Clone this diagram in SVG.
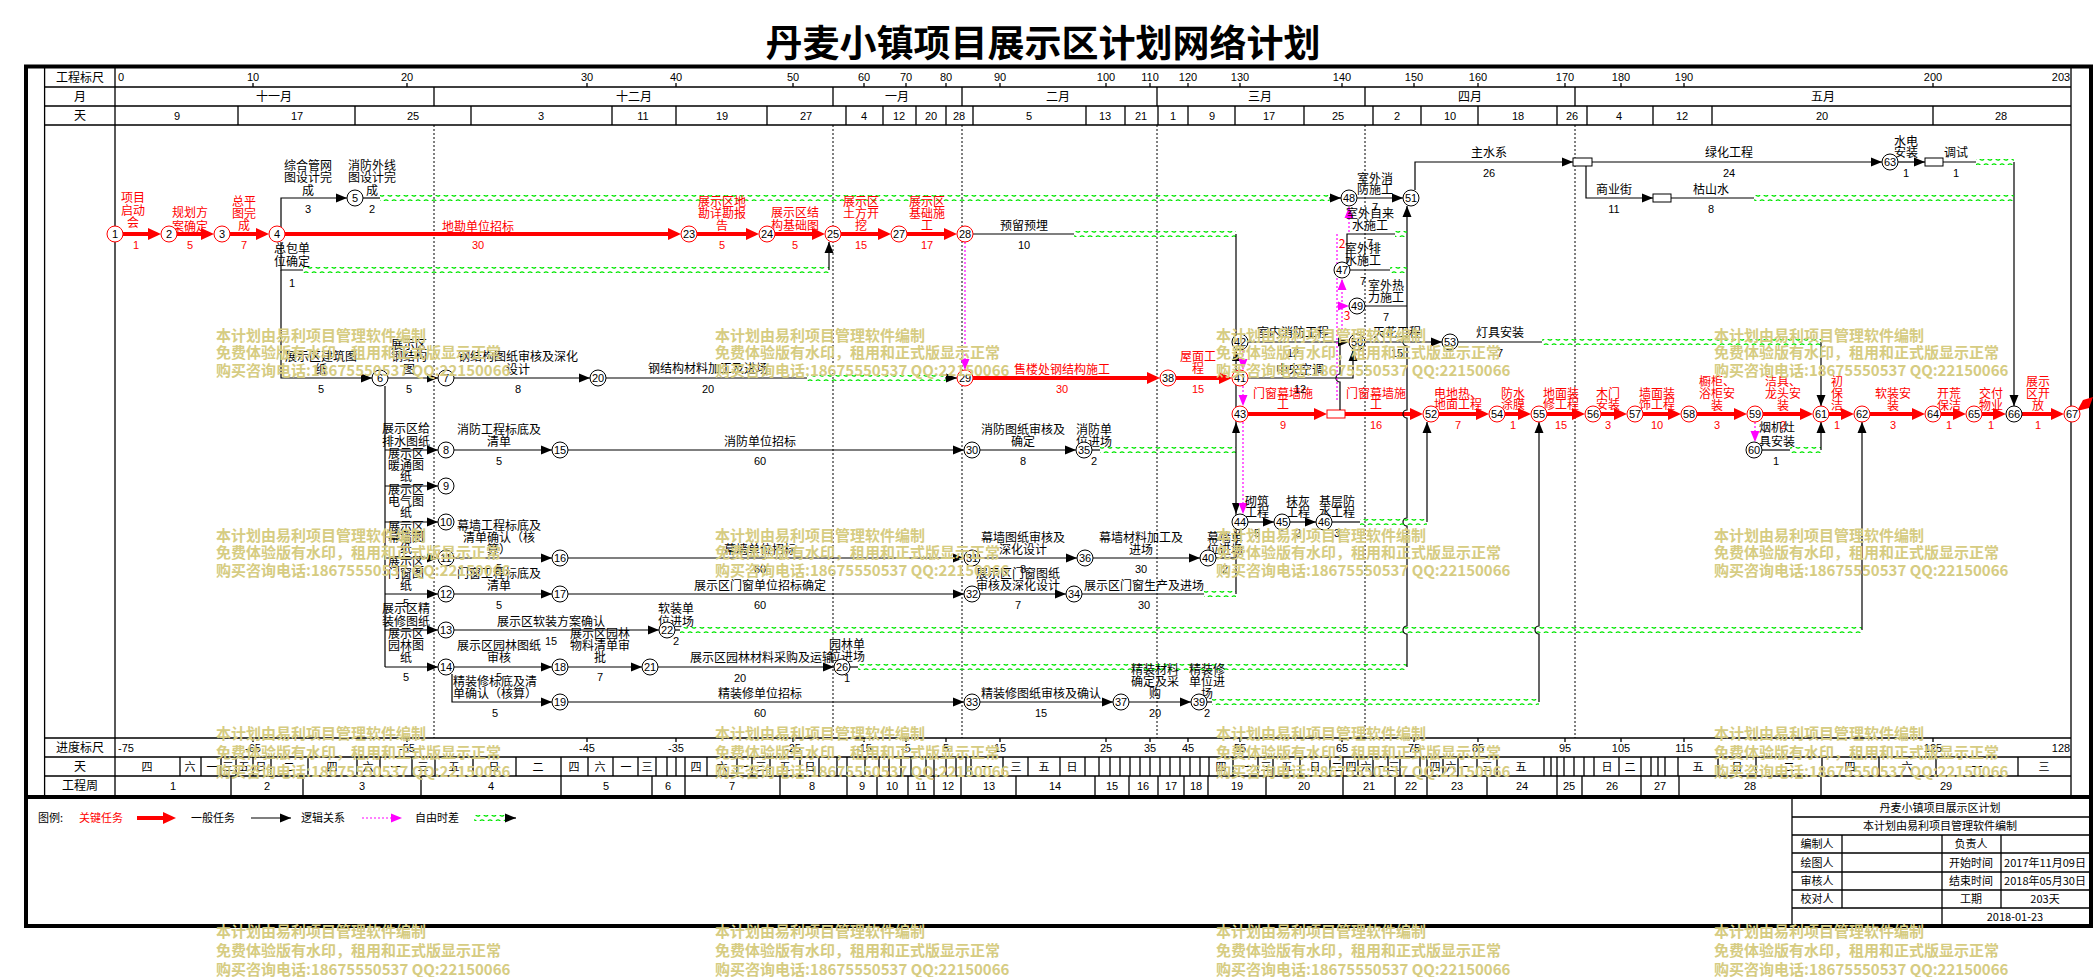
<svg xmlns="http://www.w3.org/2000/svg" width="2095" height="977" viewBox="0 0 2095 977">
<style>
text{font-family:"Noto Sans CJK SC","Liberation Sans",sans-serif;font-size:12px;fill:#000;text-anchor:middle}
.s{text-anchor:start}
.r{fill:#ff0000}
.n{font-family:"Liberation Sans",sans-serif;font-size:11px}
.h{font-family:"Liberation Sans",sans-serif;font-size:11px}
.tb{font-size:11px}
.nd circle{fill:#fff;stroke:#000;stroke-width:1}
.nc circle{stroke:#ff0000}
.l{fill:none;stroke:#000;stroke-width:1.2}
.a{fill:none;stroke:#000;stroke-width:1.2;marker-end:url(#ab)}
.c{fill:none;stroke:#ff0000;stroke-width:4;marker-end:url(#ar)}
.m{fill:none;stroke:#ff00ff;stroke-width:1.2;stroke-dasharray:2 2;marker-end:url(#am)}
.md{fill:none;stroke:#ff00ff;stroke-width:1.2;stroke-dasharray:2 2}
.wv{fill:url(#wave)}
.wm{font-size:15px;font-weight:700;fill:#d6cc82;text-anchor:start}
.g{fill:none;stroke:#000;stroke-width:1.3}
.mon{fill:none;stroke:#000;stroke-width:1;stroke-dasharray:2 2}
</style>
<defs>
<pattern id="wave" patternUnits="userSpaceOnUse" width="8" height="6"><path d="M0,3 Q2,0.8 4,3 T8,3" fill="none" stroke="#00e600" stroke-width="1.3"/></pattern>
<marker id="ab" markerUnits="userSpaceOnUse" markerWidth="12" markerHeight="10" refX="11" refY="5" orient="auto"><path d="M0,0.5 L11,5 L0,9.5z" fill="#000"/></marker>
<marker id="ar" markerUnits="userSpaceOnUse" markerWidth="14" markerHeight="12" refX="7" refY="6" orient="auto"><path d="M0,0 L13,6 L0,12z" fill="#ff0000"/></marker>
<marker id="am" markerUnits="userSpaceOnUse" markerWidth="12" markerHeight="10" refX="11" refY="5" orient="auto"><path d="M0,0.5 L11,5 L0,9.5z" fill="#ff00ff"/></marker>
</defs>
<rect width="2095" height="977" fill="#fff"/>
<text x="1043" y="57" style="font-size:37px;font-weight:700">丹麦小镇项目展示区计划网络计划</text>

<g id="frame">
<rect x="26" y="66.5" width="2065" height="859.5" fill="none" stroke="#000" stroke-width="4"/>
<path class="g" d="M44.6,66 V797 M115,66 V797 M2071,66 V797 M44.6,87 H2071 M44.6,106 H2071 M44.6,125 H2071 M44.6,738 H2071 M44.6,757 H2071 M44.6,776 H2071"/>
<path d="M26,797 H2091" stroke="#000" stroke-width="4"/>
<path class="mon" d="M434,125 V738 M833,125 V738 M962,125 V738 M1157,125 V738 M1365,125 V738 M1575,125 V738"/>
</g>

<g id="header">
<text x="80" y="82">工程标尺</text><text x="80" y="101">月</text><text x="80" y="120">天</text>
<path class="g" d="M253,83 V87 M407,83 V87 M587,83 V87 M676,83 V87 M793,83 V87 M864,83 V87 M906,83 V87 M946,83 V87 M1000,83 V87 M1106,83 V87 M1150,83 V87 M1188,83 V87 M1240,83 V87 M1342,83 V87 M1414,83 V87 M1478,83 V87 M1565,83 V87 M1621,83 V87 M1684,83 V87 M1933,83 V87"/>
<g class="h">
<text class="h s" x="118" y="81">0</text><text class="h" x="253" y="81">10</text><text class="h" x="407" y="81">20</text><text class="h" x="587" y="81">30</text><text class="h" x="676" y="81">40</text><text class="h" x="793" y="81">50</text><text class="h" x="864" y="81">60</text><text class="h" x="906" y="81">70</text><text class="h" x="946" y="81">80</text><text class="h" x="1000" y="81">90</text><text class="h" x="1106" y="81">100</text><text class="h" x="1150" y="81">110</text><text class="h" x="1188" y="81">120</text><text class="h" x="1240" y="81">130</text><text class="h" x="1342" y="81">140</text><text class="h" x="1414" y="81">150</text><text class="h" x="1478" y="81">160</text><text class="h" x="1565" y="81">170</text><text class="h" x="1621" y="81">180</text><text class="h" x="1684" y="81">190</text><text class="h" x="1933" y="81">200</text><text class="h" x="2061" y="81">203</text>
</g>
<path class="g" d="M434,87 V106 M833,87 V106 M962,87 V106 M1157,87 V106 M1365,87 V106 M1575,87 V106"/>
<text x="274" y="101">十一月</text><text x="634" y="101">十二月</text><text x="897" y="101">一月</text><text x="1058" y="101">二月</text><text x="1260" y="101">三月</text><text x="1470" y="101">四月</text><text x="1823" y="101">五月</text>
<path class="g" d="M238,106 V125 M355,106 V125 M471,106 V125 M612,106 V125 M676,106 V125 M767,106 V125 M846,106 V125 M883,106 V125 M916,106 V125 M946,106 V125 M973,106 V125 M1086,106 V125 M1125,106 V125 M1158,106 V125 M1188,106 V125 M1235,106 V125 M1304,106 V125 M1373,106 V125 M1421,106 V125 M1478,106 V125 M1557,106 V125 M1587,106 V125 M1653,106 V125 M1712,106 V125 M1933,106 V125"/>
<text class="h" x="177" y="120">9</text><text class="h" x="297" y="120">17</text><text class="h" x="413" y="120">25</text><text class="h" x="541" y="120">3</text><text class="h" x="643" y="120">11</text><text class="h" x="722" y="120">19</text><text class="h" x="806" y="120">27</text><text class="h" x="864" y="120">4</text><text class="h" x="899" y="120">12</text><text class="h" x="931" y="120">20</text><text class="h" x="959" y="120">28</text><text class="h" x="1029" y="120">5</text><text class="h" x="1105" y="120">13</text><text class="h" x="1141" y="120">21</text><text class="h" x="1173" y="120">1</text><text class="h" x="1212" y="120">9</text><text class="h" x="1269" y="120">17</text><text class="h" x="1338" y="120">25</text><text class="h" x="1397" y="120">2</text><text class="h" x="1450" y="120">10</text><text class="h" x="1518" y="120">18</text><text class="h" x="1572" y="120">26</text><text class="h" x="1619" y="120">4</text><text class="h" x="1682" y="120">12</text><text class="h" x="1822" y="120">20</text><text class="h" x="2001" y="120">28</text>
</g>

<g id="bottom-scale">
<text x="80" y="752">进度标尺</text><text x="80" y="771">天</text><text x="80" y="790">工程周</text>
<path class="g" d="M253,738 V742 M407,738 V742 M587,738 V742 M676,738 V742 M793,738 V742 M864,738 V742 M906,738 V742 M946,738 V742 M1000,738 V742 M1106,738 V742 M1150,738 V742 M1188,738 V742 M1240,738 V742 M1342,738 V742 M1414,738 V742 M1478,738 V742 M1565,738 V742 M1621,738 V742 M1684,738 V742 M1933,738 V742"/>
<text class="h s" x="118" y="752">-75</text><text class="h" x="253" y="752">-65</text><text class="h" x="407" y="752">-55</text><text class="h" x="587" y="752">-45</text><text class="h" x="676" y="752">-35</text><text class="h" x="793" y="752">-25</text><text class="h" x="864" y="752">-15</text><text class="h" x="906" y="752">-5</text><text class="h" x="946" y="752">5</text><text class="h" x="1000" y="752">15</text><text class="h" x="1106" y="752">25</text><text class="h" x="1150" y="752">35</text><text class="h" x="1188" y="752">45</text><text class="h" x="1240" y="752">55</text><text class="h" x="1342" y="752">65</text><text class="h" x="1414" y="752">75</text><text class="h" x="1478" y="752">85</text><text class="h" x="1565" y="752">95</text><text class="h" x="1621" y="752">105</text><text class="h" x="1684" y="752">115</text><text class="h" x="1933" y="752">125</text><text class="h" x="2061" y="752">128</text>
<path class="g" d="M180,757V776M201,757V776M221,757V776M236,757V776M253,757V776M271,757V776M308,757V776M357,757V776M380,757V776M412,757V776M435,757V776M473,757V776M516,757V776M561,757V776M588,757V776M613,757V776M638,757V776M656,757V776M667,757V776M676,757V776M685,757V776M707,757V776M737,757V776M752,757V776M770,757V776M800,757V776M819,757V776M837,757V776M847,757V776M865,757V776M879,757V776M889,757V776M901,757V776M911,757V776M926,757V776M934,757V776M946,757V776M956,757V776M966,757V776M971,757V776M1003,757V776M1028,757V776M1060,757V776M1085,757V776M1099,757V776M1110,757V776M1120,757V776M1130,757V776M1140,757V776M1150,757V776M1160,757V776M1170,757V776M1180,757V776M1190,757V776M1200,757V776M1209,757V776M1233,757V776M1258,757V776M1273,757V776M1300,757V776M1330,757V776M1343,757V776M1358,757V776M1373,757V776M1388,757V776M1400,757V776M1420,757V776M1427,757V776M1443,757V776M1458,757V776M1477,757V776M1497,757V776M1544,757V776M1551,757V776M1557,757V776M1564,757V776M1574,757V776M1584,757V776M1594,757V776M1619,757V776M1641,757V776M1651,757V776M1658,757V776M1665,757V776M1678,757V776M1718,757V776M1756,757V776M1822,757V776M1879,757V776M1936,757V776M2018,757V776"/>
<g class="tb">
<text class="tb" x="147" y="771">四</text><text class="tb" x="190" y="771">六</text><text class="tb" x="212" y="771">一</text><text class="tb" x="228" y="771">三</text><text class="tb" x="244" y="771">五</text><text class="tb" x="261" y="771">日</text><text class="tb" x="289" y="771">二</text><text class="tb" x="332" y="771">四</text><text class="tb" x="368" y="771">六</text><text class="tb" x="396" y="771">一</text><text class="tb" x="423" y="771">三</text><text class="tb" x="454" y="771">五</text><text class="tb" x="494" y="771">日</text><text class="tb" x="538" y="771">二</text><text class="tb" x="574" y="771">四</text><text class="tb" x="600" y="771">六</text><text class="tb" x="626" y="771">一</text><text class="tb" x="647" y="771">三</text><text class="tb" x="696" y="771">四</text><text class="tb" x="722" y="771">六</text><text class="tb" x="744" y="771">一</text><text class="tb" x="761" y="771">三</text><text class="tb" x="785" y="771">五</text><text class="tb" x="810" y="771">日</text><text class="tb" x="987" y="771">一</text><text class="tb" x="1016" y="771">三</text><text class="tb" x="1044" y="771">五</text><text class="tb" x="1072" y="771">日</text><text class="tb" x="1221" y="771">四</text><text class="tb" x="1246" y="771">一</text><text class="tb" x="1266" y="771">三</text><text class="tb" x="1287" y="771">五</text><text class="tb" x="1315" y="771">日</text><text class="tb" x="1337" y="771">二</text><text class="tb" x="1351" y="771">四</text><text class="tb" x="1366" y="771">六</text><text class="tb" x="1381" y="771">一</text><text class="tb" x="1394" y="771">三</text><text class="tb" x="1435" y="771">四</text><text class="tb" x="1451" y="771">六</text><text class="tb" x="1468" y="771">一</text><text class="tb" x="1487" y="771">三</text><text class="tb" x="1521" y="771">五</text><text class="tb" x="1607" y="771">日</text><text class="tb" x="1630" y="771">二</text><text class="tb" x="1698" y="771">五</text><text class="tb" x="1737" y="771">日</text><text class="tb" x="1789" y="771">二</text><text class="tb" x="1850" y="771">四</text><text class="tb" x="1907" y="771">六</text><text class="tb" x="1977" y="771">一</text><text class="tb" x="2044" y="771">三</text>
</g>
<path class="g" d="M231,776V795M303,776V795M421,776V795M561,776V795M652,776V795M685,776V795M780,776V795M847,776V795M877,776V795M908,776V795M934,776V795M961,776V795M1016,776V795M1095,776V795M1129,776V795M1158,776V795M1184,776V795M1208,776V795M1266,776V795M1343,776V795M1395,776V795M1427,776V795M1487,776V795M1557,776V795M1582,776V795M1641,776V795M1679,776V795M1821,776V795"/>
<text class="h" x="173" y="790">1</text><text class="h" x="267" y="790">2</text><text class="h" x="362" y="790">3</text><text class="h" x="491" y="790">4</text><text class="h" x="606" y="790">5</text><text class="h" x="668" y="790">6</text><text class="h" x="732" y="790">7</text><text class="h" x="812" y="790">8</text><text class="h" x="862" y="790">9</text><text class="h" x="892" y="790">10</text><text class="h" x="921" y="790">11</text><text class="h" x="948" y="790">12</text><text class="h" x="989" y="790">13</text><text class="h" x="1055" y="790">14</text><text class="h" x="1112" y="790">15</text><text class="h" x="1143" y="790">16</text><text class="h" x="1171" y="790">17</text><text class="h" x="1196" y="790">18</text><text class="h" x="1237" y="790">19</text><text class="h" x="1304" y="790">20</text><text class="h" x="1369" y="790">21</text><text class="h" x="1411" y="790">22</text><text class="h" x="1457" y="790">23</text><text class="h" x="1522" y="790">24</text><text class="h" x="1569" y="790">25</text><text class="h" x="1612" y="790">26</text><text class="h" x="1660" y="790">27</text><text class="h" x="1750" y="790">28</text><text class="h" x="1946" y="790">29</text>
</g>

<g id="legend">
<text class="s tb" x="38" y="822">图例:</text>
<text class="s r tb" x="79" y="822">关键任务</text>
<path class="c" d="M137,818 H170"/>
<text class="s tb" x="191" y="822">一般任务</text>
<path class="a" d="M251,818 H291"/>
<text class="s tb" x="301" y="822">逻辑关系</text>
<path class="m" d="M362,818 H402"/>
<text class="s tb" x="415" y="822">自由时差</text>
<rect class="wv" transform="translate(0,818)" x="474" y="-3" width="32" height="6"/>
<path class="a" d="M505,818 H516"/>
</g>

<g id="title-block">
<path class="g" d="M1792,797 V925 M1792,817 H2089 M1792,835 H2089 M1792,853 H2089 M1792,872 H2089 M1792,890 H2089 M1792,908 H2089 M1842,835 V908 M1942,835 V925 M2001,835 V908"/>
<text class="tb" x="1940" y="812">丹麦小镇项目展示区计划</text>
<text class="tb" x="1940" y="830">本计划由易利项目管理软件编制</text>
<text class="tb" x="1817" y="848">编制人</text><text class="tb" x="1971" y="848">负责人</text>
<text class="tb" x="1817" y="867">绘图人</text><text class="tb" x="1971" y="867">开始时间</text><text class="tb" x="2045" y="867">2017年11月09日</text>
<text class="tb" x="1817" y="885">审核人</text><text class="tb" x="1971" y="885">结束时间</text><text class="tb" x="2045" y="885">2018年05月30日</text>
<text class="tb" x="1817" y="903">校对人</text><text class="tb" x="1971" y="903">工期</text><text class="tb" x="2045" y="903">203天</text>
<text class="tb" x="2015" y="921">2018-01-23</text>
</g>

<g id="connectors">
<path class="c" d="M123,234 H155"/><path class="c" d="M177,234 H208"/><path class="c" d="M230,234 H263"/><path class="c" d="M285,234 H675"/><path class="c" d="M697,234 H753"/><path class="c" d="M775,234 H819"/><path class="c" d="M841,234 H885"/><path class="c" d="M907,234 H951"/>
<path class="c" d="M973,378 H1154"/><path class="c" d="M1176,378 H1226"/>
<path class="c" d="M1248,414 H1321"/><path class="c" d="M1345,414 H1417"/><path class="c" d="M1439,414 H1483"/><path class="c" d="M1505,414 H1525"/><path class="c" d="M1547,414 H1579"/><path class="c" d="M1601,414 H1621"/><path class="c" d="M1643,414 H1675"/><path class="c" d="M1697,414 H1741"/><path class="c" d="M1763,414 H1807"/><path class="c" d="M1829,414 H1848"/><path class="c" d="M1870,414 H1919"/><path class="c" d="M1941,414 H1960"/><path class="c" d="M1982,414 H2000"/><path class="c" d="M2022,414 H2058"/>
<rect x="1327" y="410" width="18" height="8" fill="#fff" stroke="#ff0000" stroke-width="1"/>
<polygon points="2077,411 2083,400 2093,397 2089,408" fill="#ff0000"/>
<path class="a" d="M281,227 V198 H347"/>
<path class="l" d="M363,198 H380"/><rect class="wv" transform="translate(0,198)" x="380" y="-3" width="952" height="6"/><path class="a" d="M1329,198 H1341"/>
<path class="l" d="M281,242 V270 H303"/><rect class="wv" transform="translate(0,270)" x="303" y="-3" width="526" height="6"/><path class="a" d="M829,270 V242"/>
<path class="a" d="M281,270 V378 H372"/>
<path class="a" d="M388,378 H438"/><path class="a" d="M454,378 H590"/>
<path class="l" d="M606,378 H807"/><rect class="wv" transform="translate(0,378)" x="807" y="-3" width="140" height="6"/><path class="a" d="M945,378 H957"/>
<path class="m" d="M965,242 V370"/>
<path class="l" d="M385,386 V667"/>
<path class="a" d="M385,450 H438"/><path class="a" d="M385,486 H438"/><path class="a" d="M385,522 H438"/><path class="a" d="M385,558 H438"/><path class="a" d="M385,594 H438"/><path class="a" d="M385,630 H438"/><path class="a" d="M385,667 H438"/>
<path class="a" d="M454,450 H552"/><path class="a" d="M568,450 H964"/><path class="a" d="M980,450 H1076"/>
<path class="l" d="M1092,450 H1100"/><rect class="wv" transform="translate(0,450)" x="1100" y="-3" width="136" height="6"/>
<path class="a" d="M454,558 H552"/><path class="a" d="M568,558 H964"/><path class="a" d="M980,558 H1077"/><path class="a" d="M1093,558 H1200"/><path class="l" d="M1216,558 H1236"/>
<path class="a" d="M454,594 H552"/><path class="a" d="M568,594 H964"/><path class="a" d="M980,594 H1066"/>
<path class="l" d="M1082,594 H1204"/><rect class="wv" transform="translate(0,594)" x="1204" y="-3" width="32" height="6"/>
<path class="a" d="M454,630 H659"/>
<path class="l" d="M675,630 H680"/><rect class="wv" transform="translate(0,630)" x="680" y="-3" width="1182" height="6"/><path class="a" d="M1862,630 V422"/>
<path class="a" d="M454,667 H552"/><path class="a" d="M568,667 H642"/><path class="a" d="M658,667 H834"/>
<path class="l" d="M850,667 H858"/><rect class="wv" transform="translate(0,667)" x="858" y="-3" width="549" height="6"/>
<path class="a" d="M1407,667 V634 A4,4 0 0 1 1407,626 V526 A4,4 0 0 1 1407,518 V418 A4,4 0 0 1 1407,410 V346 A4,4 0 0 1 1407,338 V206"/>
<path class="a" d="M452,674 V702 H552"/>
<path class="a" d="M568,702 H964"/><path class="a" d="M980,702 H1113"/><path class="a" d="M1129,702 H1191"/>
<path class="l" d="M1207,702 H1212"/><rect class="wv" transform="translate(0,702)" x="1212" y="-3" width="327" height="6"/>
<path class="a" d="M1539,702 V634 A4,4 0 0 1 1539,626 V422"/>
<path class="l" d="M973,234 H1074"/><rect class="wv" transform="translate(0,234)" x="1074" y="-3" width="162" height="6"/>
<path class="l" d="M1236,234 V594"/>
<polygon points="1236,350 1232,361 1240,361" fill="#000"/>
<polygon points="1236,422 1232,433 1240,433" fill="#000"/>
<polygon points="1236,514 1232,503 1240,503" fill="#000"/>
<path class="m" d="M1243,350 V370"/><path class="m" d="M1243,386 V406"/><path class="m" d="M1243,422 V514"/>
<path class="a" d="M1248,342 H1349"/>
<path class="a" d="M1248,378 H1353 V350"/>
<path class="l" d="M1340,410 V382 A4,4 0 0 1 1340,374 V342"/>
<path class="a" d="M1248,522 H1274"/><path class="a" d="M1290,522 H1316"/>
<path class="l" d="M1332,522 H1360"/><rect class="wv" transform="translate(0,522)" x="1360" y="-3" width="67" height="6"/><path class="a" d="M1427,522 V422"/>
<path class="l" d="M1347,263 V234 H1395"/><rect class="wv" transform="translate(0,234)" x="1395" y="-3" width="12" height="6"/>
<path class="l" d="M1350,270 H1390"/><rect class="wv" transform="translate(0,270)" x="1390" y="-3" width="17" height="6"/>
<path class="l" d="M1365,306 H1407"/>
<path class="a" d="M1357,198 H1403"/>
<path class="md" d="M1337,400 V234"/>
<path class="m" d="M1349,232 V207"/><path class="m" d="M1342,330 V279"/><path class="m" d="M1337,306 H1349"/>
<text class="r" x="1342" y="248">2</text><text class="r" x="1347" y="320">3</text>
<path class="a" d="M1365,342 H1442"/>
<path class="l" d="M1458,342 H1542"/><rect class="wv" transform="translate(0,342)" x="1542" y="-3" width="279" height="6"/><path class="a" d="M1821,342 V406"/>
<path class="a" d="M1415,190 V162 H1573"/>
<rect x="1573" y="158" width="19" height="8" fill="#fff" stroke="#000" stroke-width="1"/>
<path class="a" d="M1592,162 H1882"/><path class="a" d="M1898,162 H1925"/>
<rect x="1925" y="158" width="18" height="8" fill="#fff" stroke="#000" stroke-width="1"/>
<path class="l" d="M1943,162 H1976"/><rect class="wv" transform="translate(0,162)" x="1976" y="-3" width="38" height="6"/><path class="a" d="M2014,162 V406"/>
<path class="a" d="M1586,166 V198 H1653"/>
<rect x="1653" y="194" width="18" height="8" fill="#fff" stroke="#000" stroke-width="1"/>
<path class="l" d="M1671,198 H1754"/><rect class="wv" transform="translate(0,198)" x="1754" y="-3" width="260" height="6"/>
<path class="m" d="M1755,422 V442"/>
<path class="l" d="M1762,450 H1790"/><rect class="wv" transform="translate(0,450)" x="1790" y="-3" width="31" height="6"/><path class="a" d="M1821,450 V422"/>
</g>

<g id="labels">
<text class="r" x="133" y="202">项目</text><text class="r" x="133" y="215">启动</text><text class="r" x="133" y="227">会</text><text class="r h" x="136" y="249">1</text>
<text class="r" x="190" y="217">规划方</text><text class="r" x="190" y="231">案确定</text><text class="r h" x="190" y="249">5</text>
<text class="r" x="244" y="206">总平</text><text class="r" x="244" y="218">图完</text><text class="r" x="244" y="230">成</text><text class="r h" x="244" y="249">7</text>
<text class="r" x="478" y="231">地勘单位招标</text><text class="r h" x="478" y="249">30</text>
<text class="r" x="722" y="206">展示区地</text><text class="r" x="722" y="218">勘详勘报</text><text class="r" x="722" y="230">告</text><text class="r h" x="722" y="249">5</text>
<text class="r" x="795" y="217">展示区结</text><text class="r" x="795" y="230">构基础图</text><text class="r h" x="795" y="249">5</text>
<text class="r" x="861" y="206">展示区</text><text class="r" x="861" y="218">土方开</text><text class="r" x="861" y="230">挖</text><text class="r h" x="861" y="249">15</text>
<text class="r" x="927" y="206">展示区</text><text class="r" x="927" y="218">基础施</text><text class="r" x="927" y="230">工</text><text class="r h" x="927" y="249">17</text>
<text class="r" x="1062" y="374">售楼处钢结构施工</text><text class="r h" x="1062" y="393">30</text>
<text class="r" x="1198" y="361">屋面工</text><text class="r" x="1198" y="373">程</text><text class="r h" x="1198" y="393">15</text>
<text class="r" x="1283" y="398">门窗幕墙施</text><text class="r" x="1283" y="409">工</text><text class="r h" x="1283" y="429">9</text>
<text class="r" x="1376" y="398">门窗幕墙施</text><text class="r" x="1376" y="409">工</text><text class="r h" x="1376" y="429">16</text>
<text class="r" x="1458" y="398">电地热、</text><text class="r" x="1458" y="409">地面工程</text><text class="r h" x="1458" y="429">7</text>
<text class="r" x="1513" y="398">防水</text><text class="r" x="1513" y="409">涂膜</text><text class="r h" x="1513" y="429">1</text>
<text class="r" x="1561" y="398">地面装</text><text class="r" x="1561" y="409">修工程</text><text class="r h" x="1561" y="429">15</text>
<text class="r" x="1608" y="398">木门</text><text class="r" x="1608" y="409">安装</text><text class="r h" x="1608" y="429">3</text>
<text class="r" x="1657" y="398">墙面装</text><text class="r" x="1657" y="409">饰工程</text><text class="r h" x="1657" y="429">10</text>
<text class="r" x="1717" y="386">橱柜、</text><text class="r" x="1717" y="398">浴柜安</text><text class="r" x="1717" y="410">装</text><text class="r h" x="1717" y="429">3</text>
<text class="r" x="1783" y="386">洁具、</text><text class="r" x="1783" y="398">龙头安</text><text class="r" x="1783" y="410">装</text><text class="r h" x="1783" y="429">2</text>
<text class="r" x="1837" y="386">初</text><text class="r" x="1837" y="398">保</text><text class="r" x="1837" y="410">洁</text><text class="r h" x="1837" y="429">1</text>
<text class="r" x="1893" y="398">软装安</text><text class="r" x="1893" y="410">装</text><text class="r h" x="1893" y="429">3</text>
<text class="r" x="1949" y="398">开荒</text><text class="r" x="1949" y="410">保洁</text><text class="r h" x="1949" y="429">1</text>
<text class="r" x="1991" y="398">交付</text><text class="r" x="1991" y="410">物业</text><text class="r h" x="1991" y="429">1</text>
<text class="r" x="2038" y="386">展示</text><text class="r" x="2038" y="398">区开</text><text class="r" x="2038" y="410">放</text><text class="r h" x="2038" y="429">1</text>
<text x="308" y="170">综合管网</text><text x="308" y="182">图设计完</text><text x="308" y="195">成</text><text class="h" x="308" y="213">3</text>
<text x="372" y="170">消防外线</text><text x="372" y="182">图设计完</text><text x="372" y="195">成</text><text class="h" x="372" y="213">2</text>
<text x="292" y="253">总包单</text><text x="292" y="266">位确定</text><text class="h" x="292" y="287">1</text>
<text x="1024" y="230">预留预埋</text><text class="h" x="1024" y="249">10</text>
<text x="321" y="361">展示区建筑图</text><text x="321" y="374">纸</text><text class="h" x="321" y="393">5</text>
<text x="409" y="349">展示区</text><text x="409" y="361">钢结构</text><text x="409" y="374">图</text><text class="h" x="409" y="393">5</text>
<text x="518" y="361">钢结构图纸审核及深化</text><text x="518" y="374">设计</text><text class="h" x="518" y="393">8</text>
<text x="708" y="373">钢结构材料加工及进场</text><text class="h" x="708" y="393">20</text>
<text x="406" y="433">展示区给</text><text x="406" y="446">排水图纸</text>
<text x="406" y="458">展示区</text><text x="406" y="470">暖通图</text><text x="406" y="481">纸</text>
<text x="406" y="494">展示区</text><text x="406" y="506">电气图</text><text x="406" y="517">纸</text>
<text x="406" y="531">展示区</text><text x="406" y="542">幕墙图</text><text x="406" y="553">纸</text>
<text x="406" y="566">展示区</text><text x="406" y="578">门窗图</text><text x="406" y="590">纸</text><text class="h" x="406" y="607">5</text>
<text x="406" y="613">展示区精</text><text x="406" y="626">装修图纸</text>
<text x="406" y="638">展示区</text><text x="406" y="650">园林图</text><text x="406" y="662">纸</text><text class="h" x="406" y="681">5</text>
<text x="499" y="434">消防工程标底及</text><text x="499" y="446">清单</text><text class="h" x="499" y="465">5</text>
<text x="760" y="446">消防单位招标</text><text class="h" x="760" y="465">60</text>
<text x="1023" y="434">消防图纸审核及</text><text x="1023" y="446">确定</text><text class="h" x="1023" y="465">8</text>
<text x="1094" y="434">消防单</text><text x="1094" y="446">位进场</text><text class="h" x="1094" y="465">2</text>
<text x="499" y="530">幕墙工程标底及</text><text x="499" y="542">清单确认（核</text><text x="499" y="554">算）</text><text class="h" x="499" y="572">5</text>
<text x="760" y="554">幕墙单位招标</text><text class="h" x="760" y="573">60</text>
<text x="1023" y="542">幕墙图纸审核及</text><text x="1023" y="554">深化设计</text><text class="h" x="1023" y="573">8</text>
<text x="1141" y="542">幕墙材料加工及</text><text x="1141" y="554">进场</text><text class="h" x="1141" y="573">30</text>
<text x="1225" y="542">幕墙单</text><text x="1225" y="554">位进场</text><text class="h" x="1225" y="573">2</text>
<text x="499" y="578">门窗工程标底及</text><text x="499" y="590">清单</text><text class="h" x="499" y="609">5</text>
<text x="760" y="590">展示区门窗单位招标确定</text><text class="h" x="760" y="609">60</text>
<text x="1018" y="578">展示区门窗图纸</text><text x="1018" y="590">审核及深化设计</text><text class="h" x="1018" y="609">7</text>
<text x="1144" y="590">展示区门窗生产及进场</text><text class="h" x="1144" y="609">30</text>
<text x="551" y="626">展示区软装方案确认</text><text class="h" x="551" y="645">15</text>
<text x="676" y="613">软装单</text><text x="676" y="626">位进场</text><text class="h" x="676" y="645">2</text>
<text x="499" y="650">展示区园林图纸</text><text x="499" y="662">审核</text><text class="h" x="499" y="681">5</text>
<text x="600" y="638">展示区园林</text><text x="600" y="650">物料清单审</text><text x="600" y="662">批</text><text class="h" x="600" y="681">7</text>
<text x="762" y="662">展示区园林材料采购及运输</text><text class="h" x="740" y="682">20</text>
<text x="847" y="649">园林单</text><text x="847" y="661">位进场</text><text class="h" x="847" y="682">1</text>
<text x="495" y="686">精装修标底及清</text><text x="495" y="698">单确认（核算）</text><text class="h" x="495" y="717">5</text>
<text x="760" y="698">精装修单位招标</text><text class="h" x="760" y="717">60</text>
<text x="1041" y="698">精装修图纸审核及确认</text><text class="h" x="1041" y="717">15</text>
<text x="1155" y="674">精装材料</text><text x="1155" y="686">确定及采</text><text x="1155" y="698">购</text><text class="h" x="1155" y="717">20</text>
<text x="1207" y="674">精装修</text><text x="1207" y="686">单位进</text><text x="1207" y="698">场</text><text class="h" x="1207" y="717">2</text>
<text x="1257" y="506">砌筑</text><text x="1257" y="517">工程</text><text class="h" x="1257" y="537">5</text>
<text x="1298" y="506">抹灰</text><text x="1298" y="517">工程</text><text class="h" x="1298" y="537">2</text>
<text x="1337" y="506">基层防</text><text x="1337" y="517">水工程</text><text class="h" x="1337" y="537">3</text>
<text x="1293" y="337">室内消防工程</text><text class="h" x="1293" y="357">12</text>
<text x="1300" y="374">中央空调</text><text class="h" x="1300" y="393">12</text>
<text x="1397" y="337">天花工程</text><text class="h" x="1397" y="357">15</text>
<text x="1500" y="337">灯具安装</text><text class="h" x="1500" y="357">7</text>
<text x="1375" y="183">室外消</text><text x="1375" y="194">防施工</text><text class="h" x="1375" y="211">7</text>
<text x="1370" y="218">室外自来</text><text x="1370" y="230">水施工</text><text class="h" x="1370" y="247">7</text>
<text x="1363" y="253">室外排</text><text x="1363" y="265">水施工</text><text class="h" x="1363" y="285">7</text>
<text x="1386" y="290">室外热</text><text x="1386" y="302">力施工</text><text class="h" x="1386" y="321">7</text>
<text x="1489" y="157">主水系</text><text class="h" x="1489" y="177">26</text>
<text x="1729" y="157">绿化工程</text><text class="h" x="1729" y="177">24</text>
<text x="1906" y="146">水电</text><text x="1906" y="157">安装</text><text class="h" x="1906" y="177">1</text>
<text x="1956" y="157">调试</text><text class="h" x="1956" y="177">1</text>
<text x="1614" y="194">商业街</text><text class="h" x="1614" y="213">11</text>
<text x="1711" y="194">枯山水</text><text class="h" x="1711" y="213">8</text>
<text x="1777" y="432">烟机灶</text><text x="1777" y="446">具安装</text><text class="h" x="1776" y="465">1</text>
</g>

<g id="nodes">
<g id="n1" class="nd nc"><circle cx="115" cy="234" r="8"/><text class="n" x="115" y="238">1</text></g>
<g id="n2" class="nd nc"><circle cx="169" cy="234" r="8"/><text class="n" x="169" y="238">2</text></g>
<g id="n3" class="nd nc"><circle cx="222" cy="234" r="8"/><text class="n" x="222" y="238">3</text></g>
<g id="n4" class="nd nc"><circle cx="277" cy="234" r="8"/><text class="n" x="277" y="238">4</text></g>
<g id="n5" class="nd"><circle cx="355" cy="198" r="8"/><text class="n" x="355" y="202">5</text></g>
<g id="n6" class="nd"><circle cx="380" cy="378" r="8"/><text class="n" x="380" y="382">6</text></g>
<g id="n7" class="nd"><circle cx="446" cy="378" r="8"/><text class="n" x="446" y="382">7</text></g>
<g id="n8" class="nd"><circle cx="446" cy="450" r="8"/><text class="n" x="446" y="454">8</text></g>
<g id="n9" class="nd"><circle cx="446" cy="486" r="8"/><text class="n" x="446" y="490">9</text></g>
<g id="n10" class="nd"><circle cx="446" cy="522" r="8"/><text class="n" x="446" y="526">10</text></g>
<g id="n11" class="nd"><circle cx="446" cy="558" r="8"/><text class="n" x="446" y="562">11</text></g>
<g id="n12" class="nd"><circle cx="446" cy="594" r="8"/><text class="n" x="446" y="598">12</text></g>
<g id="n13" class="nd"><circle cx="446" cy="630" r="8"/><text class="n" x="446" y="634">13</text></g>
<g id="n14" class="nd"><circle cx="446" cy="667" r="8"/><text class="n" x="446" y="671">14</text></g>
<g id="n15" class="nd"><circle cx="560" cy="450" r="8"/><text class="n" x="560" y="454">15</text></g>
<g id="n16" class="nd"><circle cx="560" cy="558" r="8"/><text class="n" x="560" y="562">16</text></g>
<g id="n17" class="nd"><circle cx="560" cy="594" r="8"/><text class="n" x="560" y="598">17</text></g>
<g id="n18" class="nd"><circle cx="560" cy="667" r="8"/><text class="n" x="560" y="671">18</text></g>
<g id="n19" class="nd"><circle cx="560" cy="702" r="8"/><text class="n" x="560" y="706">19</text></g>
<g id="n20" class="nd"><circle cx="598" cy="378" r="8"/><text class="n" x="598" y="382">20</text></g>
<g id="n21" class="nd"><circle cx="650" cy="667" r="8"/><text class="n" x="650" y="671">21</text></g>
<g id="n22" class="nd"><circle cx="667" cy="630" r="8"/><text class="n" x="667" y="634">22</text></g>
<g id="n23" class="nd nc"><circle cx="689" cy="234" r="8"/><text class="n" x="689" y="238">23</text></g>
<g id="n24" class="nd nc"><circle cx="767" cy="234" r="8"/><text class="n" x="767" y="238">24</text></g>
<g id="n25" class="nd nc"><circle cx="833" cy="234" r="8"/><text class="n" x="833" y="238">25</text></g>
<g id="n26" class="nd"><circle cx="842" cy="667" r="8"/><text class="n" x="842" y="671">26</text></g>
<g id="n27" class="nd nc"><circle cx="899" cy="234" r="8"/><text class="n" x="899" y="238">27</text></g>
<g id="n28" class="nd nc"><circle cx="965" cy="234" r="8"/><text class="n" x="965" y="238">28</text></g>
<g id="n29" class="nd nc"><circle cx="965" cy="378" r="8"/><text class="n" x="965" y="382">29</text></g>
<g id="n30" class="nd"><circle cx="972" cy="450" r="8"/><text class="n" x="972" y="454">30</text></g>
<g id="n31" class="nd"><circle cx="972" cy="558" r="8"/><text class="n" x="972" y="562">31</text></g>
<g id="n32" class="nd"><circle cx="972" cy="594" r="8"/><text class="n" x="972" y="598">32</text></g>
<g id="n33" class="nd"><circle cx="972" cy="702" r="8"/><text class="n" x="972" y="706">33</text></g>
<g id="n34" class="nd"><circle cx="1074" cy="594" r="8"/><text class="n" x="1074" y="598">34</text></g>
<g id="n35" class="nd"><circle cx="1084" cy="450" r="8"/><text class="n" x="1084" y="454">35</text></g>
<g id="n36" class="nd"><circle cx="1085" cy="558" r="8"/><text class="n" x="1085" y="562">36</text></g>
<g id="n37" class="nd"><circle cx="1121" cy="702" r="8"/><text class="n" x="1121" y="706">37</text></g>
<g id="n38" class="nd nc"><circle cx="1168" cy="378" r="8"/><text class="n" x="1168" y="382">38</text></g>
<g id="n39" class="nd"><circle cx="1199" cy="702" r="8"/><text class="n" x="1199" y="706">39</text></g>
<g id="n40" class="nd"><circle cx="1208" cy="558" r="8"/><text class="n" x="1208" y="562">40</text></g>
<g id="n41" class="nd nc"><circle cx="1240" cy="378" r="8"/><text class="n" x="1240" y="382">41</text></g>
<g id="n42" class="nd"><circle cx="1240" cy="342" r="8"/><text class="n" x="1240" y="346">42</text></g>
<g id="n43" class="nd nc"><circle cx="1240" cy="414" r="8"/><text class="n" x="1240" y="418">43</text></g>
<g id="n44" class="nd"><circle cx="1240" cy="522" r="8"/><text class="n" x="1240" y="526">44</text></g>
<g id="n45" class="nd"><circle cx="1282" cy="522" r="8"/><text class="n" x="1282" y="526">45</text></g>
<g id="n46" class="nd"><circle cx="1324" cy="522" r="8"/><text class="n" x="1324" y="526">46</text></g>
<g id="n47" class="nd"><circle cx="1342" cy="270" r="8"/><text class="n" x="1342" y="274">47</text></g>
<g id="n48" class="nd"><circle cx="1349" cy="198" r="8"/><text class="n" x="1349" y="202">48</text></g>
<g id="n49" class="nd"><circle cx="1357" cy="306" r="8"/><text class="n" x="1357" y="310">49</text></g>
<g id="n50" class="nd"><circle cx="1357" cy="342" r="8"/><text class="n" x="1357" y="346">50</text></g>
<g id="n51" class="nd"><circle cx="1411" cy="198" r="8"/><text class="n" x="1411" y="202">51</text></g>
<g id="n52" class="nd nc"><circle cx="1431" cy="414" r="8"/><text class="n" x="1431" y="418">52</text></g>
<g id="n53" class="nd"><circle cx="1450" cy="342" r="8"/><text class="n" x="1450" y="346">53</text></g>
<g id="n54" class="nd nc"><circle cx="1497" cy="414" r="8"/><text class="n" x="1497" y="418">54</text></g>
<g id="n55" class="nd nc"><circle cx="1539" cy="414" r="8"/><text class="n" x="1539" y="418">55</text></g>
<g id="n56" class="nd nc"><circle cx="1593" cy="414" r="8"/><text class="n" x="1593" y="418">56</text></g>
<g id="n57" class="nd nc"><circle cx="1635" cy="414" r="8"/><text class="n" x="1635" y="418">57</text></g>
<g id="n58" class="nd nc"><circle cx="1689" cy="414" r="8"/><text class="n" x="1689" y="418">58</text></g>
<g id="n59" class="nd nc"><circle cx="1755" cy="414" r="8"/><text class="n" x="1755" y="418">59</text></g>
<g id="n60" class="nd"><circle cx="1754" cy="450" r="8"/><text class="n" x="1754" y="454">60</text></g>
<g id="n61" class="nd nc"><circle cx="1821" cy="414" r="8"/><text class="n" x="1821" y="418">61</text></g>
<g id="n62" class="nd nc"><circle cx="1862" cy="414" r="8"/><text class="n" x="1862" y="418">62</text></g>
<g id="n63" class="nd"><circle cx="1890" cy="162" r="8"/><text class="n" x="1890" y="166">63</text></g>
<g id="n64" class="nd nc"><circle cx="1933" cy="414" r="8"/><text class="n" x="1933" y="418">64</text></g>
<g id="n65" class="nd nc"><circle cx="1974" cy="414" r="8"/><text class="n" x="1974" y="418">65</text></g>
<g id="n66" class="nd"><circle cx="2014" cy="414" r="8"/><text class="n" x="2014" y="418">66</text></g>
<g id="n67" class="nd nc"><circle cx="2072" cy="414" r="8"/><text class="n" x="2072" y="418">67</text></g>
</g>

<g id="watermarks">
<text class="wm" x="216" y="341">本计划由易利项目管理软件编制</text><text class="wm" x="216" y="358">免费体验版有水印，租用和正式版显示正常</text><text class="wm" x="216" y="376">购买咨询电话:18675550537 QQ:22150066</text>
<text class="wm" x="715" y="341">本计划由易利项目管理软件编制</text><text class="wm" x="715" y="358">免费体验版有水印，租用和正式版显示正常</text><text class="wm" x="715" y="376">购买咨询电话:18675550537 QQ:22150066</text>
<text class="wm" x="1216" y="341">本计划由易利项目管理软件编制</text><text class="wm" x="1216" y="358">免费体验版有水印，租用和正式版显示正常</text><text class="wm" x="1216" y="376">购买咨询电话:18675550537 QQ:22150066</text>
<text class="wm" x="1714" y="341">本计划由易利项目管理软件编制</text><text class="wm" x="1714" y="358">免费体验版有水印，租用和正式版显示正常</text><text class="wm" x="1714" y="376">购买咨询电话:18675550537 QQ:22150066</text>
<text class="wm" x="216" y="541">本计划由易利项目管理软件编制</text><text class="wm" x="216" y="558">免费体验版有水印，租用和正式版显示正常</text><text class="wm" x="216" y="576">购买咨询电话:18675550537 QQ:22150066</text>
<text class="wm" x="715" y="541">本计划由易利项目管理软件编制</text><text class="wm" x="715" y="558">免费体验版有水印，租用和正式版显示正常</text><text class="wm" x="715" y="576">购买咨询电话:18675550537 QQ:22150066</text>
<text class="wm" x="1216" y="541">本计划由易利项目管理软件编制</text><text class="wm" x="1216" y="558">免费体验版有水印，租用和正式版显示正常</text><text class="wm" x="1216" y="576">购买咨询电话:18675550537 QQ:22150066</text>
<text class="wm" x="1714" y="541">本计划由易利项目管理软件编制</text><text class="wm" x="1714" y="558">免费体验版有水印，租用和正式版显示正常</text><text class="wm" x="1714" y="576">购买咨询电话:18675550537 QQ:22150066</text>
<text class="wm" x="216" y="739">本计划由易利项目管理软件编制</text><text class="wm" x="216" y="758">免费体验版有水印，租用和正式版显示正常</text><text class="wm" x="216" y="777">购买咨询电话:18675550537 QQ:22150066</text>
<text class="wm" x="715" y="739">本计划由易利项目管理软件编制</text><text class="wm" x="715" y="758">免费体验版有水印，租用和正式版显示正常</text><text class="wm" x="715" y="777">购买咨询电话:18675550537 QQ:22150066</text>
<text class="wm" x="1216" y="739">本计划由易利项目管理软件编制</text><text class="wm" x="1216" y="758">免费体验版有水印，租用和正式版显示正常</text><text class="wm" x="1216" y="777">购买咨询电话:18675550537 QQ:22150066</text>
<text class="wm" x="1714" y="739">本计划由易利项目管理软件编制</text><text class="wm" x="1714" y="758">免费体验版有水印，租用和正式版显示正常</text><text class="wm" x="1714" y="777">购买咨询电话:18675550537 QQ:22150066</text>
<text class="wm" x="216" y="937">本计划由易利项目管理软件编制</text><text class="wm" x="216" y="956">免费体验版有水印，租用和正式版显示正常</text><text class="wm" x="216" y="975">购买咨询电话:18675550537 QQ:22150066</text>
<text class="wm" x="715" y="937">本计划由易利项目管理软件编制</text><text class="wm" x="715" y="956">免费体验版有水印，租用和正式版显示正常</text><text class="wm" x="715" y="975">购买咨询电话:18675550537 QQ:22150066</text>
<text class="wm" x="1216" y="937">本计划由易利项目管理软件编制</text><text class="wm" x="1216" y="956">免费体验版有水印，租用和正式版显示正常</text><text class="wm" x="1216" y="975">购买咨询电话:18675550537 QQ:22150066</text>
<text class="wm" x="1714" y="937">本计划由易利项目管理软件编制</text><text class="wm" x="1714" y="956">免费体验版有水印，租用和正式版显示正常</text><text class="wm" x="1714" y="975">购买咨询电话:18675550537 QQ:22150066</text>
</g>
</svg>
